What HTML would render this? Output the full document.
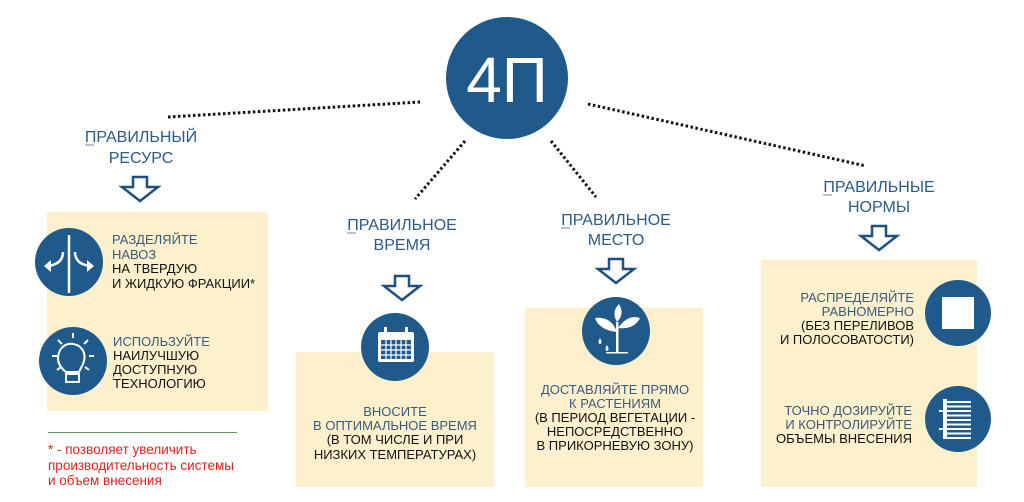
<!DOCTYPE html>
<html><head><meta charset="utf-8"><style>
html,body{margin:0;padding:0;background:#fff;}
svg{display:block;font-family:"Liberation Sans",sans-serif;}
.h{fill:#2a5a88;font-size:16px;}
.b{fill:#3a5a7a;font-size:13px;}
.k{fill:#111;font-size:13px;}
.r{fill:#e02020;font-size:13.5px;}
.dot{stroke:#111;stroke-width:3;stroke-dasharray:2.5 2.5;fill:none;}
.arr{fill:#fff;stroke:#1f4f7e;stroke-width:2.5;stroke-linejoin:miter;}
</style></head><body>
<svg width="1024" height="502" viewBox="0 0 1024 502">
<line class="dot" x1="168" y1="117" x2="420" y2="102"/>
<line class="dot" x1="465" y1="141" x2="415" y2="199"/>
<line class="dot" x1="551" y1="141" x2="596" y2="197"/>
<line class="dot" x1="588" y1="104" x2="866" y2="166"/>
<circle cx="507" cy="78" r="61" fill="#1f5a8b"/>
<text x="507" y="102" text-anchor="middle" fill="#fff" font-size="64">4П</text>

<rect x="47" y="212" width="221" height="199" fill="#fdf0cc"/>
<rect x="296" y="352" width="198" height="135" fill="#fdf0cc"/>
<rect x="525" y="308" width="178" height="179" fill="#fdf0cc"/>
<rect x="761" y="260" width="216" height="227" fill="#fdf0cc"/>

<g class="h" text-anchor="middle">
<text x="141" y="142">ПРАВИЛЬНЫЙ</text><text x="141" y="163">РЕСУРС</text>
<text x="402" y="230">ПРАВИЛЬНОЕ</text><text x="402" y="250">ВРЕМЯ</text>
<text x="616" y="225">ПРАВИЛЬНОЕ</text><text x="616" y="245">МЕСТО</text>
<text x="879" y="192">ПРАВИЛЬНЫЕ</text><text x="879" y="212">НОРМЫ</text>
</g>
<g stroke="#8a9bb0" stroke-width="1.2">
<line x1="85" y1="145" x2="94" y2="145"/>
<line x1="347" y1="233" x2="356" y2="233"/>
<line x1="561" y1="228" x2="570" y2="228"/>
<line x1="823" y1="195" x2="832" y2="195"/>
</g>

<g class="arr">
<path d="M133,177 h14 v10 h11 l-18,14 l-18,-14 h11 z"/>
<path d="M395,276 h14 v10 h11 l-18,14 l-18,-14 h11 z"/>
<path d="M609,259 h14 v10 h11 l-18,14 l-18,-14 h11 z"/>
<path d="M872,226 h14 v10 h11 l-18,14 l-18,-14 h11 z"/>
</g>

<g fill="#1f5a8b">
<circle cx="69" cy="262" r="34"/>
<circle cx="73" cy="361" r="34"/>
<circle cx="395" cy="347" r="34"/>
<circle cx="616" cy="331" r="34"/>
<circle cx="958" cy="313" r="33"/>
<circle cx="958" cy="419" r="33"/>
</g>
<g stroke="#fff" stroke-width="2.5" fill="none">
<line x1="69" y1="235" x2="69" y2="293"/>
<path d="M63,252 q0,12 -15,14"/><path d="M75,252 q0,12 15,14"/>
</g>
<path d="M44,266 l7,-6 v12 z M94,266 l-7,-6 v12 z" fill="#fff"/>
<g stroke="#fff" stroke-width="2" fill="none">
<path d="M66,372 q-12,-9 -6,-22 q7,-10 19,-4 q10,8 2,22 l-2,4 z"/>
<rect x="66" y="374" width="13" height="8"/>
<line x1="58" y1="340" x2="62" y2="344"/><line x1="88" y1="340" x2="84" y2="344"/>
<line x1="73" y1="333" x2="73" y2="338"/><line x1="52" y1="356" x2="57" y2="356"/>
<line x1="89" y1="356" x2="94" y2="356"/><line x1="57" y1="370" x2="61" y2="367"/><line x1="89" y1="370" x2="85" y2="367"/>
</g>
<g fill="#fff">
<rect x="378" y="332" width="36" height="30" rx="2"/>
<rect x="384" y="327" width="3" height="7"/><rect x="405" y="327" width="3" height="7"/>
</g>
<rect x="381" y="340" width="30" height="19" fill="#1f5a8b"/>
<g stroke="#fff" stroke-width="1.2">
<line x1="381" y1="345" x2="411" y2="345"/><line x1="381" y1="350" x2="411" y2="350"/><line x1="381" y1="355" x2="411" y2="355"/>
<line x1="386" y1="340" x2="386" y2="359"/><line x1="391" y1="340" x2="391" y2="359"/><line x1="396" y1="340" x2="396" y2="359"/><line x1="401" y1="340" x2="401" y2="359"/><line x1="406" y1="340" x2="406" y2="359"/>
</g>
<g fill="#fff">
<rect x="616" y="322" width="2.5" height="30"/>
<path d="M617,332 q-18,-2 -22,-14 q16,-2 22,14 z"/>
<path d="M618,328 q10,-14 22,-10 q-6,12 -22,10 z"/>
<path d="M617,322 q-6,-10 2,-18 q6,10 -2,18 z"/>
<path d="M600,338 q-3,5 0,6 q3,-1 0,-6 z"/>
<path d="M607,345 q-3,5 0,6 q3,-1 0,-6 z"/>
<rect x="606" y="352" width="22" height="1.5"/>
</g>
<rect x="942" y="297" width="32" height="32" fill="#fff"/>
<g fill="#fff">
<rect x="943" y="399" width="4" height="40"/>
<rect x="947" y="401" width="24" height="2"/><rect x="947" y="405.5" width="24" height="2"/><rect x="947" y="410" width="24" height="2"/>
<rect x="947" y="414.5" width="24" height="2"/><rect x="947" y="419" width="24" height="2"/><rect x="947" y="423.5" width="24" height="2"/>
<rect x="947" y="428" width="24" height="2"/><rect x="947" y="432.5" width="24" height="2"/><rect x="947" y="437" width="24" height="2"/>
<rect x="939" y="410" width="4" height="2"/><rect x="939" y="428" width="4" height="2"/>
</g>

<text x="112" y="244" class="b">РАЗДЕЛЯЙТЕ</text>
<text x="112" y="259" class="b">НАВОЗ</text>
<text x="112" y="273" class="k">НА ТВЕРДУЮ</text>
<text x="112" y="288" class="k">И ЖИДКУЮ ФРАКЦИИ*</text>
<text x="113" y="346" class="b">ИСПОЛЬЗУЙТЕ</text>
<text x="113" y="360" class="k">НАИЛУЧШУЮ</text>
<text x="113" y="374" class="k">ДОСТУПНУЮ</text>
<text x="113" y="388" class="k">ТЕХНОЛОГИЮ</text>

<line x1="48" y1="432.5" x2="237" y2="432.5" stroke="#5a9a5a" stroke-width="1"/>
<text x="48" y="454" class="r">* - позволяет увеличить</text>
<text x="48" y="470" class="r">производительность системы</text>
<text x="48" y="485" class="r">и объем внесения</text>

<g text-anchor="middle">
<text x="395" y="416" class="b">ВНОСИТЕ</text>
<text x="395" y="430" class="b">В ОПТИМАЛЬНОЕ ВРЕМЯ</text>
<text x="395" y="444" class="k">(В ТОМ ЧИСЛЕ И ПРИ</text>
<text x="395" y="459" class="k">НИЗКИХ ТЕМПЕРАТУРАХ)</text>

<text x="615" y="394" class="b">ДОСТАВЛЯЙТЕ ПРЯМО</text>
<text x="615" y="408" class="b">К РАСТЕНИЯМ</text>
<text x="615" y="422" class="k">(В ПЕРИОД ВЕГЕТАЦИИ -</text>
<text x="615" y="436" class="k">НЕПОСРЕДСТВЕННО</text>
<text x="615" y="450" class="k">В ПРИКОРНЕВУЮ ЗОНУ)</text>
</g>
<g text-anchor="end">
<text x="914" y="302" class="b">РАСПРЕДЕЛЯЙТЕ</text>
<text x="914" y="316" class="b">РАВНОМЕРНО</text>
<text x="914" y="330" class="k">(БЕЗ ПЕРЕЛИВОВ</text>
<text x="914" y="344" class="k">И ПОЛОСОВАТОСТИ)</text>
<text x="912" y="415" class="b">ТОЧНО ДОЗИРУЙТЕ</text>
<text x="912" y="429" class="b">И КОНТРОЛИРУЙТЕ</text>
<text x="912" y="443" class="k">ОБЪЕМЫ ВНЕСЕНИЯ</text>
</g>
</svg>
</body></html>
